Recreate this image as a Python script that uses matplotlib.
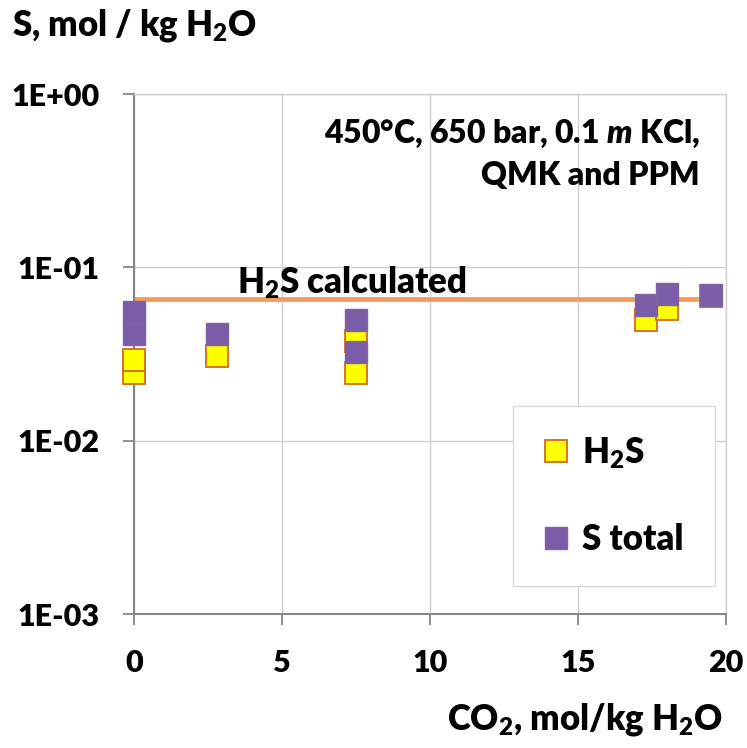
import matplotlib
matplotlib.use("Agg")
from matplotlib import pyplot as plt

# data
co2_h2s = [0, 0, 2.8, 7.5, 7.5, 17.3, 18.0, 19.5]
h2s = [0.0245, 0.0292, 0.0309, 0.0376, 0.0245, 0.0494, 0.0575, 0.068]
co2_stot = [0, 0, 2.8, 7.5, 7.5, 17.3, 18.0, 19.5]
stot = [0.0550, 0.0411, 0.0413, 0.0494, 0.0326, 0.0608, 0.0703, 0.0696]
calc_x = [0, 19.5]
calc_h2s = [0.066, 0.066]
xticks = [0, 5, 10, 15, 20]
yticks = [1e-3, 1e-2, 1e-1, 1e0]
ytick_labels = ["1E-03", "1E-02", "1E-01", "1E+00"]

plt.rcParams["font.family"] = ["Lato", "DejaVu Sans"]
plt.rcParams["font.weight"] = "heavy"
plt.rcParams["mathtext.fontset"] = "custom"
plt.rcParams["mathtext.rm"] = "Lato:heavy"
plt.rcParams["mathtext.it"] = "Lato:heavy:italic"
plt.rcParams["mathtext.bf"] = "Lato:heavy"

axcol = "#868686"
gridcol = "#CFCFCF"

fig = plt.figure(figsize=(7.47, 7.48), dpi=100)
ax = fig.add_axes([134 / 747, 1 - 614 / 748, 592 / 747, 520 / 748])

ax.plot(calc_x, calc_h2s, color="#F29B5A", lw=3.4, zorder=2)
ax.plot(co2_h2s, h2s, ls="none", marker="s", ms=15.5, mfc="#FFFF00",
        mec="#D2691E", mew=1.3, zorder=3, clip_on=False, label="H$_2$S")
ax.plot(co2_stot, stot, ls="none", marker="s", ms=15.5, mfc="#7B5CA6",
        mec="#8064A2", mew=1.0, zorder=4, clip_on=False, label="S total")

ax.set_yscale("log")
ax.set_xlim(0, 20)
ax.set_ylim(1e-3, 1)
ax.set_xticks(xticks)
ax.set_xticklabels([str(t) for t in xticks])
ax.set_yticks(yticks)
ax.set_yticklabels(ytick_labels)
ax.minorticks_off()
ax.tick_params(labelsize=22, length=8, width=1.3, color=axcol, pad=17)
ax.grid(True, color=gridcol, lw=1.0)
ax.set_axisbelow(True)
for s in ["left", "bottom"]:
    ax.spines[s].set_color(axcol)
    ax.spines[s].set_linewidth(1.5)
for s in ["top", "right"]:
    ax.spines[s].set_color(gridcol)
    ax.spines[s].set_linewidth(1.0)

ax.text(3.48, 0.0814, "H$_2$S calculated", fontsize=25, va="center", ha="left")
ax.text(19.12, 0.588, "450°C, 650 bar, 0.1 $m$ KCl,", fontsize=23,
        va="center", ha="right")
ax.text(19.12, 0.337, "QMK and PPM", fontsize=23, va="center", ha="right")

fig.text(12 / 747, 1 - 25 / 748, "S, mol / kg H$_2$O", fontsize=25,
         va="center", ha="left")
fig.text(723 / 747, 1 - 720 / 748, "CO$_2$, mol/kg H$_2$O", fontsize=25,
         va="center", ha="right")

leg = ax.legend(loc="lower left", bbox_to_anchor=(0.640, 0.054, 0.341, 0.344),
                mode="expand", fontsize=25, frameon=True, fancybox=False,
                edgecolor="#D9D9D9", framealpha=1, handlelength=0.8,
                handletextpad=0.35, labelspacing=1.5, borderpad=0.85,
                borderaxespad=0, numpoints=1)
leg.get_frame().set_linewidth(1.0)

fig.savefig("out.png", dpi=100)
